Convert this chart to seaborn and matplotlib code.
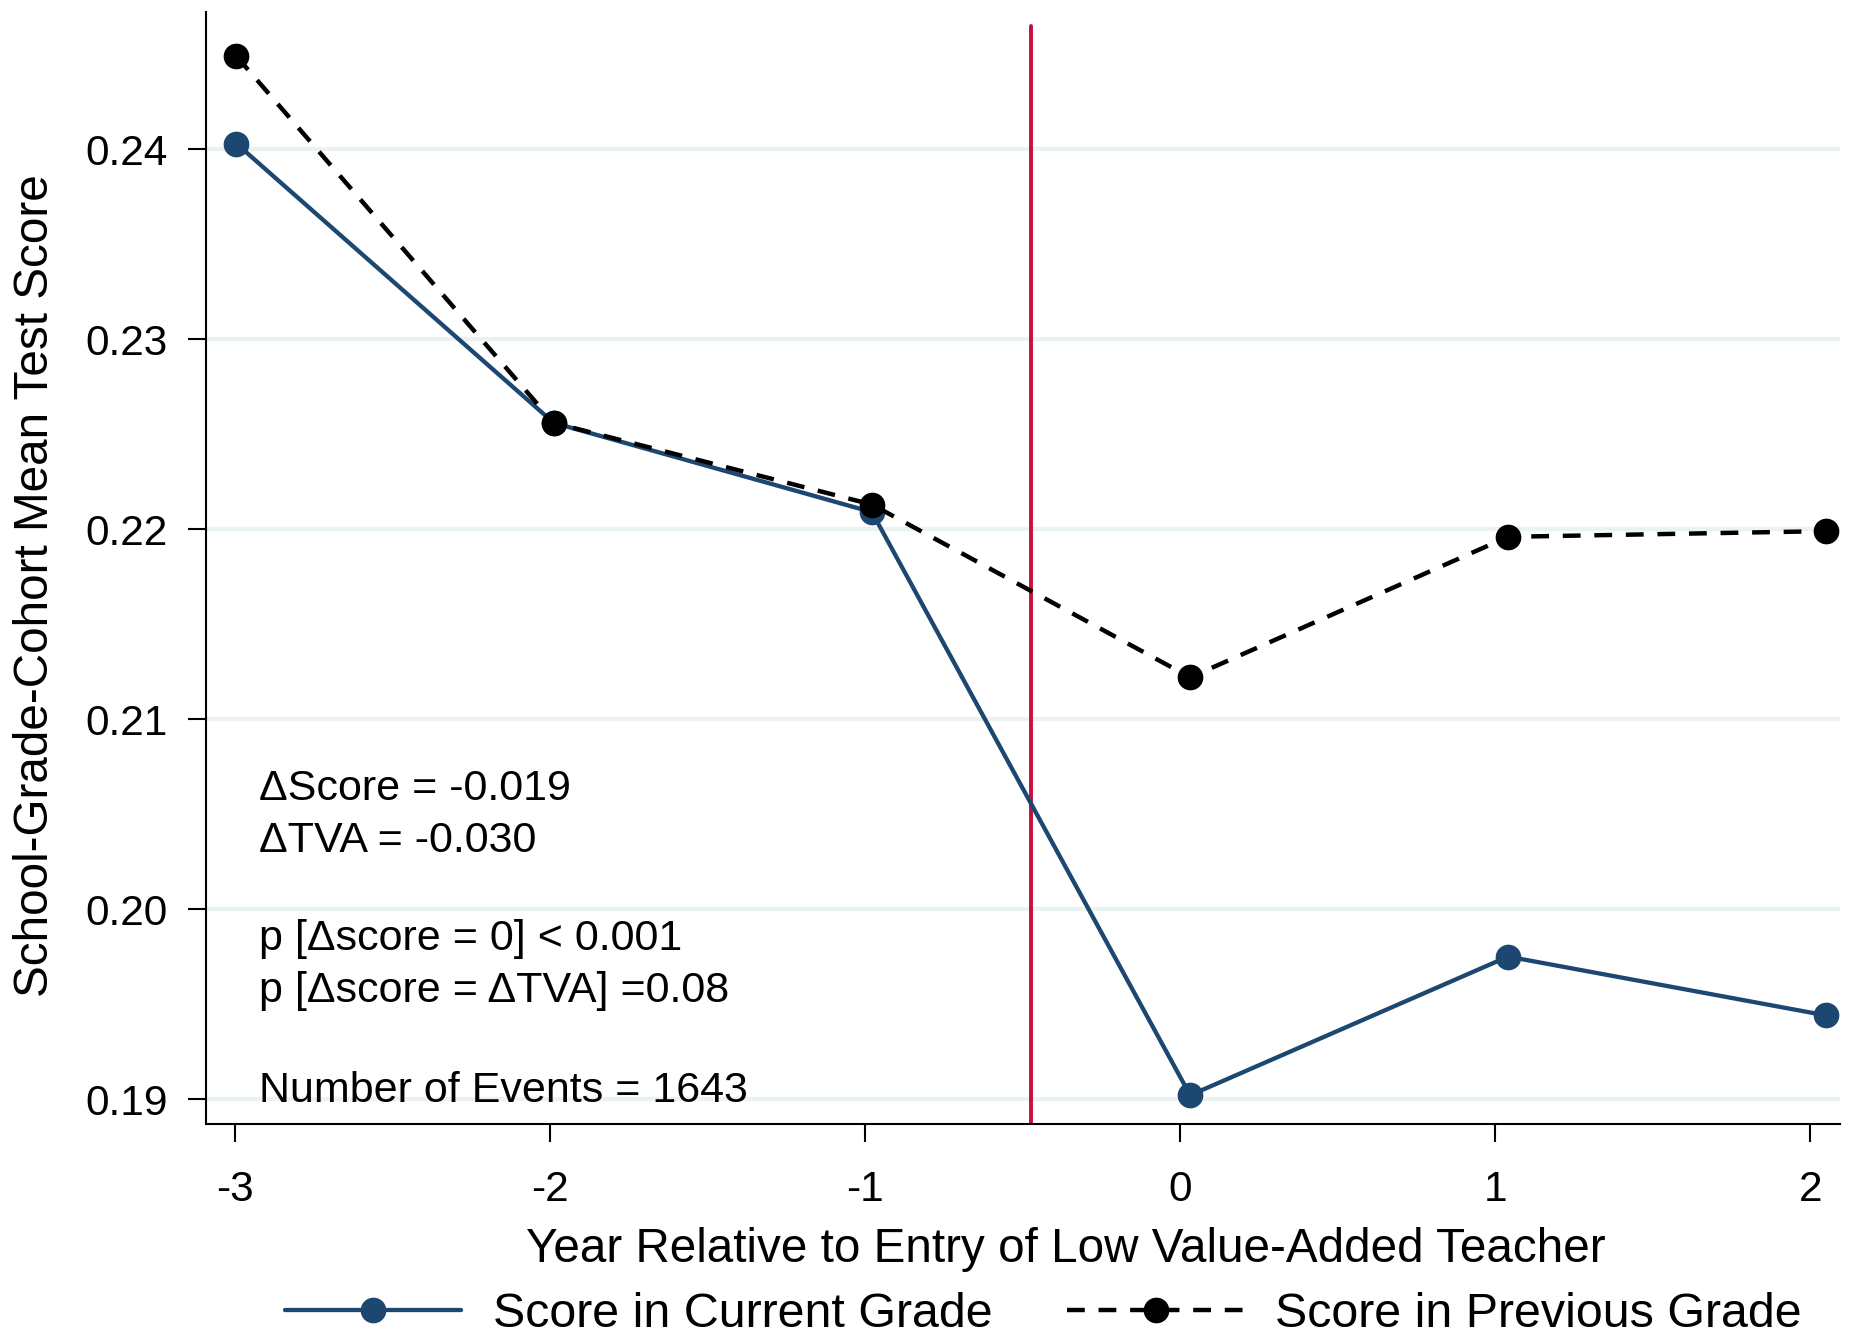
import numpy as np
import pandas as pd
import matplotlib
matplotlib.use("Agg")
import matplotlib.pyplot as plt
import seaborn as sns

# event-study means
years = [-2.995, -1.988, -0.978, 0.032, 1.041, 2.051]
score_current = [0.2403, 0.2256, 0.2209, 0.1902, 0.1975, 0.1944]
score_previous = [0.2449, 0.2256, 0.2213, 0.2122, 0.2196, 0.2199]

x_ticks = [-3, -2, -1, 0, 1, 2]
x_tick_labels = ['-3', '-2', '-1', '0', '1', '2']
y_ticks = [0.19, 0.20, 0.21, 0.22, 0.23, 0.24]
y_tick_labels = ['0.19', '0.20', '0.21', '0.22', '0.23', '0.24']

event_line = -0.472

notes = ['\u0394Score = -0.019',
         '\u0394TVA = -0.030',
         'p [\u0394score = 0] < 0.001',
         'p [\u0394score = \u0394TVA] =0.08',
         'Number of Events = 1643']
notes_y = [0.2063, 0.2036, 0.1984, 0.1957, 0.1904]

navy = '#1c4770'
red = '#c8103c'
grid_color = '#eaf2f3'

sns.set_style('white')
plt.rcParams['font.family'] = ['Liberation Sans', 'DejaVu Sans']
plt.rcParams['text.color'] = 'black'
plt.rcParams['axes.labelcolor'] = 'black'
plt.rcParams['xtick.color'] = 'black'
plt.rcParams['ytick.color'] = 'black'

fig = plt.figure(figsize=(18.55, 13.38), dpi=100)
ax = fig.add_axes([0.111, 0.160, 0.881, 0.831])

df = pd.DataFrame({'year': years, 'current': score_current, 'previous': score_previous})

# gridlines first so they sit under the lines
for yt in y_ticks:
    ax.axhline(yt, color=grid_color, lw=3, zorder=0)

sns.lineplot(data=df, x='year', y='current', ax=ax, color=navy, lw=3.1,
             marker='o', markersize=18.5, markeredgewidth=0,
             label='Score in Current Grade', zorder=3)
sns.lineplot(data=df, x='year', y='previous', ax=ax, color='black', lw=3.2,
             marker='o', markersize=18.5, markeredgewidth=0,
             label='Score in Previous Grade', zorder=4)
ax.lines[-1].set_linestyle((0, (4, 3.1)))

ax.axvline(event_line, ymax=0.987, color=red, lw=2.8, zorder=2)

for txt, yy in zip(notes, notes_y):
    ax.text(-2.924, yy, txt, fontsize=31, va='center', ha='left', color='black')

ax.set_xlim(-3.092, 2.095)
ax.set_ylim(0.18869, 0.24723)
ax.set_xticks(x_ticks)
ax.set_xticklabels(x_tick_labels)
ax.set_yticks(y_ticks)
ax.set_yticklabels(y_tick_labels)
ax.tick_params(axis='both', bottom=True, left=True, labelsize=30.5,
               length=13, width=1.5, color='black', labelcolor='black')
ax.tick_params(axis='y', pad=14.3)
ax.tick_params(axis='x', pad=20.5)

for s in ['top', 'right']:
    ax.spines[s].set_visible(False)
for s in ['left', 'bottom']:
    ax.spines[s].set_color('black')
    ax.spines[s].set_linewidth(1.5)

ax.set_xlabel('Year Relative to Entry of Low Value-Added Teacher', fontsize=34.3, va='center')
ax.xaxis.set_label_coords(0.526, -0.1129)
ax.set_ylabel('School-Grade-Cohort Mean Test Score', fontsize=34.3, va='center')
ax.yaxis.set_label_coords(-0.1044, 0.484)

handles, labels = ax.get_legend_handles_labels()
ax.get_legend().remove()
fig.legend(handles, labels, loc='center', bbox_to_anchor=(0.5625, 0.0175), ncol=2,
           frameon=False, fontsize=34.8, handlelength=3.65, handletextpad=0.65,
           columnspacing=1.55)

fig.savefig('out.png', dpi=100)
